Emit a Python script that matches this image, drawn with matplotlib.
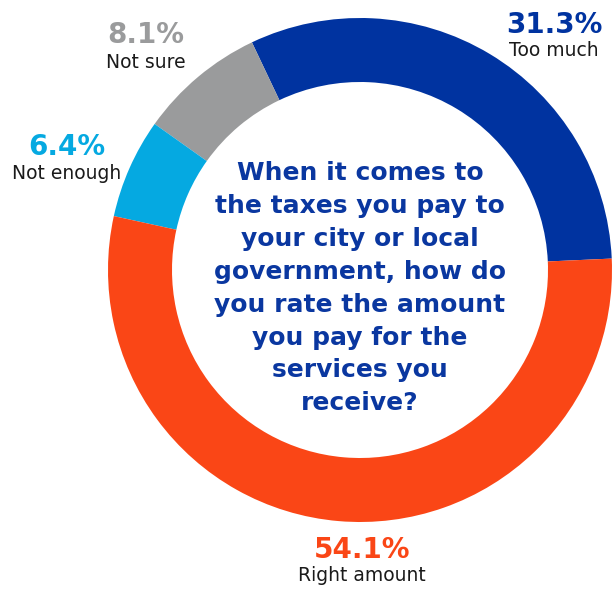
import matplotlib
matplotlib.use("Agg")
import matplotlib.pyplot as plt

# survey answers, counter-clockwise from the right-hand side
categories = ["Too much", "Not sure", "Not enough", "Right amount"]
shares = [31.3, 8.1, 6.4, 54.1]
colors = ["#0033A0", "#9A9B9C", "#05A9E1", "#FA4616"]

question = [
    "When it comes to",
    "the taxes you pay to",
    "your city or local",
    "government, how do",
    "you rate the amount",
    "you pay for the",
    "services you",
    "receive?",
]

W, H = 615, 589
fig = plt.figure(figsize=(W / 100, H / 100), dpi=100)
ax = fig.add_axes([0, 0, 1, 1])
ax.set_xlim(0, W)
ax.set_ylim(0, H)
ax.axis("off")

cx, cy = 360, H - 270
R = 252
ax.pie(shares, colors=colors, startangle=2.6, counterclock=True,
       center=(cx, cy), radius=R, frame=True,
       wedgeprops=dict(width=64, linewidth=0))
ax.set_xlim(0, W)
ax.set_ylim(0, H)
ax.set_aspect("equal")
ax.axis("off")

# label anchors (pixel x, baseline y of percentage, baseline y of name)
label_pos = {
    "Too much": (554, 33, 56),
    "Not sure": (146, 43, 68),
    "Not enough": (67, 155, 179),
    "Right amount": (362, 558, 581),
}
for name, val, col in zip(categories, shares, colors):
    x, yp, yn = label_pos[name]
    ax.text(x, H - yp, f"{val:.1f}%", color=col, fontsize=20,
            fontweight="bold", ha="center", va="baseline")
    ax.text(x, H - yn, name, color="#1a1a1a", fontsize=13.5,
            ha="center", va="baseline")

# question in the middle of the ring
for i, line in enumerate(question):
    ax.text(cx, H - (180 + i * 32.9), line, color="#0A37A0", fontsize=18,
            fontweight="bold", ha="center", va="baseline")

fig.savefig("out.png", dpi=100, facecolor="white")
